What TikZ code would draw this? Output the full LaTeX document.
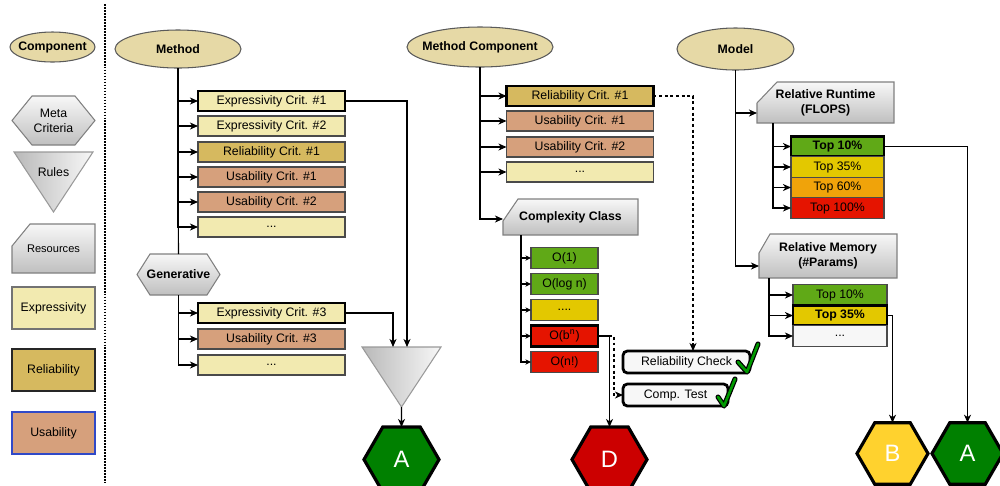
\documentclass[tikz,border=0pt]{standalone}
\usepackage{fontspec}
\setmainfont{Liberation Sans}
\usetikzlibrary{shapes.geometric,arrows.meta,calc,backgrounds}
\definecolor{ellc}{HTML}{E6D9A6}
\definecolor{ellline}{HTML}{5A5A5A}
\definecolor{exprc}{HTML}{F2EAB0}
\definecolor{relc}{HTML}{D6B95F}
\definecolor{usac}{HTML}{D6A07C}
\definecolor{boxline}{HTML}{4A4A4A}
\definecolor{legblue}{HTML}{3049C8}
\definecolor{gbox}{HTML}{60A917}
\definecolor{ybox}{HTML}{E3C800}
\definecolor{obox}{HTML}{F0A30A}
\definecolor{rbox}{HTML}{E51400}
\definecolor{hexA}{HTML}{008000}
\definecolor{hexB}{HTML}{FFD22E}
\definecolor{hexD}{HTML}{CC0000}
\definecolor{checkg}{HTML}{009A00}
\newcommand\pxu{0.02cm}
\newcommand\fsn{\fontsize{7}{8.4}\selectfont}
\newcommand\fsbold{\fontsize{7}{8.4}\selectfont\bfseries}
\begin{document}
\begin{tikzpicture}[x=0.02cm,y=-0.02cm,
  base/.style={inner sep=0pt, outer sep=0pt, font=\fsn, align=center, text=black},
  comp/.style={base, ellipse, draw=ellline, fill=ellc, line width=0.6pt, font=\fsbold},
  box/.style={base, rectangle, draw=boxline, line width=0.6pt, minimum height=20*\pxu},
  wcrit/.style={minimum width=147*\pxu},
  wo/.style={minimum width=67*\pxu, minimum height=21*\pxu},
  wtop/.style={minimum width=93*\pxu, minimum height=20.5*\pxu},
  wtopm/.style={minimum width=94*\pxu, minimum height=20.5*\pxu},
  strongbox/.style={draw=black, line width=1.6pt},
  grayshade/.style={draw=gray, line width=0.6pt, top color=gray!6, bottom color=gray!50},
  triashade/.style={draw=gray!80, line width=0.6pt, left color=gray!55, right color=gray!6},
  hexnode/.style={base, regular polygon, regular polygon sides=6, draw=black, line width=1.8pt,
    text=white, font=\fontsize{13.5}{15}\selectfont},
  checkbox/.style={base, draw=black, line width=1.6pt, rounded corners=2.5pt, fill=white!97!black},
  conn/.style={draw=black, line width=0.6pt},
  arr/.style={conn, -{Stealth[length=4.6pt,width=4pt,inset=1.4pt]}},
  sarr/.style={conn, -{Stealth[length=3.2pt,width=3pt,inset=1pt]}},
  darr/.style={arr, dash pattern=on 1.7pt off 1.5pt},
  sepline/.style={draw=black, line width=0.9pt, dash pattern=on 1pt off 0.7pt},
  checkout/.style={draw=black, line width=2.9pt, line cap=round, line join=round},
  checkin/.style={draw=checkg, line width=1.5pt, line cap=round, line join=round}
]
\useasboundingbox (0,0) rectangle (1000,485);

% ---------------- legend ----------------
\node[comp, inner xsep=-2.4pt, minimum width=85*\pxu, minimum height=30*\pxu] (legComp) at (52.5,47) {Component};
\node[base, minimum width=83*\pxu, minimum height=49*\pxu] (legMeta) at (53.5,120.5) {Meta\\Criteria};
\node[base, minimum width=79*\pxu, minimum height=60*\pxu] (legRules) at (53.5,182) {};
\node[base] (legRulesT) at (53.5,172) {Rules};
\node[base, minimum width=83*\pxu, minimum height=49*\pxu, font=\fontsize{6.3}{7.5}\selectfont] (legRes) at (53.5,248.5) {Resources};
\node[box, fill=exprc, draw=gray!90!black, minimum width=83*\pxu, minimum height=42*\pxu] (legExp) at (53.5,308) {Expressivity};
\node[box, fill=relc, draw=black!85, minimum width=83*\pxu, minimum height=42*\pxu] (legRel) at (53.5,370) {Reliability};
\node[box, fill=usac, draw=legblue, minimum width=83*\pxu, minimum height=42*\pxu] (legUsa) at (53.5,433) {Usability};
\coordinate (sepTop) at (105,4);
\coordinate (sepBot) at (105,482);
\draw[sepline] (sepTop) -- (sepBot);

% ---------------- Method ----------------
\node[comp, minimum width=126*\pxu, minimum height=38*\pxu] (method) at (178,49) {Method};
\node[box, wcrit, fill=exprc, strongbox] (e1) at (271.5,101) {Expressivity Crit. \#1};
\node[box, wcrit, fill=exprc] (e2) at (271.5,126) {Expressivity Crit. \#2};
\node[box, wcrit, fill=relc] (r1) at (271.5,152) {Reliability Crit. \#1};
\node[box, wcrit, fill=usac] (u1) at (271.5,177) {Usability Crit. \#1};
\node[box, wcrit, fill=usac] (u2) at (271.5,202) {Usability Crit. \#2};
\node[box, wcrit, fill=exprc] (d1) at (271.5,227) {...};
\node[base, font=\fsbold, minimum width=83*\pxu, minimum height=41*\pxu] (gen) at (178.5,274.5) {Generative};
\node[box, wcrit, fill=exprc, strongbox] (e3) at (271.5,313) {Expressivity Crit. \#3};
\node[box, wcrit, fill=usac] (u3) at (271.5,339) {Usability Crit. \#3};
\node[box, wcrit, fill=exprc] (d2) at (271.5,365) {...};
\node[base, minimum width=79*\pxu, minimum height=60*\pxu] (rules) at (401.5,377) {};
\node[hexnode, fill=hexA, minimum size=75*\pxu] (aL) at (401.5,459.5) {A};

% ---------------- Method Component ----------------
\node[comp, inner xsep=-3.6pt, minimum width=146*\pxu, minimum height=40*\pxu] (mc) at (480,47) {Method Component};
\node[box, wcrit, fill=relc, strongbox] (m1) at (580,96) {Reliability Crit. \#1};
\node[box, wcrit, fill=usac] (m2) at (580,121) {Usability Crit. \#1};
\node[box, wcrit, fill=usac] (m3) at (580,147) {Usability Crit. \#2};
\node[box, wcrit, fill=exprc] (m4) at (580,172) {...};
\node[base, font=\fsbold, minimum width=135*\pxu, minimum height=36*\pxu] (cc) at (570.5,217) {Complexity Class};
\node[box, wo, fill=gbox] (o1) at (564.5,258) {O(1)};
\node[box, wo, fill=gbox] (o2) at (564.5,284) {O(log n)};
\node[box, wo, fill=ybox] (o3) at (564.5,310) {....};
\node[box, wo, fill=rbox, strongbox] (o4) at (564.5,336) {O(b\textsuperscript{n})};
\node[box, wo, fill=rbox] (o5) at (564.5,362) {O(n!)};
\node[hexnode, fill=hexD, minimum size=75*\pxu] (dD) at (609.5,459.5) {D};
\node[checkbox, minimum width=127*\pxu, minimum height=22*\pxu] (rc) at (686.5,362) {Reliability Check};
\node[checkbox, minimum width=105*\pxu, minimum height=22*\pxu] (ct) at (675.5,395) {Comp. Test};

% ---------------- Model ----------------
\node[comp, minimum width=117*\pxu, minimum height=42*\pxu] (model) at (735.5,49) {Model};
\node[base, font=\fsbold, minimum width=137*\pxu, minimum height=41*\pxu] (rt) at (825.5,102.5) {Relative Runtime\\(FLOPS)};
\node[box, wtop, fill=gbox, strongbox, font=\fsbold] (t1) at (837.5,146.5) {Top 10\%};
\node[box, wtop, fill=ybox] (t2) at (837.5,167) {Top 35\%};
\node[box, wtop, fill=obox] (t3) at (837.5,187.5) {Top 60\%};
\node[box, wtop, fill=rbox] (t4) at (837.5,208) {Top 100\%};
\node[base, font=\fsbold, minimum width=138*\pxu, minimum height=44*\pxu] (rm) at (828,256) {Relative Memory\\(\#Params)};
\node[box, wtopm, fill=gbox] (s1) at (840,295) {Top 10\%};
\node[box, wtopm, fill=ybox, strongbox, font=\fsbold] (s2) at (840,315.5) {Top 35\%};
\node[box, wtopm, fill=white!97!black] (s3) at (840,336) {...};
\node[hexnode, fill=hexB, minimum size=71*\pxu] (bB) at (892.5,453.5) {B};
\node[hexnode, fill=hexA, minimum size=71*\pxu] (aR) at (967.5,453.5) {A};

% ---------------- drawn shapes behind ----------------
\begin{scope}[on background layer]
\path[grayshade] (legMeta.west) -- ($(legMeta.north west)+(20,0)$) -- ($(legMeta.north east)+(-20,0)$)
  -- (legMeta.east) -- ($(legMeta.south east)+(-20,0)$) -- ($(legMeta.south west)+(20,0)$) -- cycle;
\path[grayshade] (gen.west) -- ($(gen.north west)+(13,0)$) -- ($(gen.north east)+(-13,0)$)
  -- (gen.east) -- ($(gen.south east)+(-13,0)$) -- ($(gen.south west)+(13,0)$) -- cycle;
\path[triashade] (legRules.north west) -- (legRules.north east) -- (legRules.south) -- cycle;
\path[triashade] (rules.north west) -- (rules.north east) -- (rules.south) -- cycle;
\path[grayshade] ($(legRes.north west)+(0,22)$) -- ($(legRes.north west)+(18,0)$) -- (legRes.north east)
  -- (legRes.south east) -- (legRes.south west) -- cycle;
\path[grayshade] ($(cc.north west)+(0,22)$) -- ($(cc.north west)+(15,0)$) -- (cc.north east)
  -- (cc.south east) -- (cc.south west) -- cycle;
\path[grayshade] ($(rt.north west)+(0,21)$) -- ($(rt.north west)+(20,0)$) -- (rt.north east)
  -- (rt.south east) -- (rt.south west) -- cycle;
\path[grayshade] ($(rm.north west)+(0,19)$) -- ($(rm.north west)+(11,0)$) -- (rm.north east)
  -- (rm.south east) -- (rm.south west) -- cycle;
\end{scope}

% ---------------- connectors ----------------
\draw[conn] (method.south) -- (gen.north);
\foreach \n in {e1,e2,r1,u1,u2,d1} \draw[arr] (method.south) |- (\n.west);
\foreach \n in {e3,u3,d2} \draw[arr] (gen.south) |- (\n.west);
\draw[arr] (e1.east) -| ($(rules.north)+(5.5,0)$);
\draw[arr] (e3.east) -| ($(rules.north)+(-8.5,0)$);
\draw[arr] (rules.south) -- (aL.north);

\foreach \n in {m1,m2,m3,m4} \draw[arr] (mc.south) |- (\n.west);
\draw[arr] (mc.south) |- ($(cc.west)+(0,2)$);
\foreach \n in {o1,o2,o3,o4,o5} \draw[sarr] ($(cc.south west)+(18,0)$) |- (\n.west);
\draw[arr] (o4.east) -| (dD.north);
\draw[darr] (o4.east) -- ++(16,0) |- (ct.west);
\draw[darr] (m1.east) -| ($(rc.north)+(6.5,0)$);

\draw[arr] (model.south) |- ($(rt.west)+(0,10.5)$);
\draw[arr] (model.south) |- ($(rm.west)+(0,10)$);
\foreach \n in {t1,t2,t3,t4} \draw[arr] ($(rt.south west)+(16,0)$) |- (\n.west);
\foreach \n in {s1,s2,s3} \draw[arr] ($(rm.south west)+(10,0)$) |- (\n.west);
\draw[arr] (t1.east) -| (aR.north);
\draw[arr] (s2.east) -| (bB.north);

% ---------------- check marks ----------------
\draw[checkout] (738,362) -- (747,372) -- (758,344);
\draw[checkin]  (738,362) -- (747,372) -- (758,344);
\draw[checkout] (718,397) -- (724,406) -- (735,379);
\draw[checkin]  (718,397) -- (724,406) -- (735,379);
\end{tikzpicture}
\end{document}
